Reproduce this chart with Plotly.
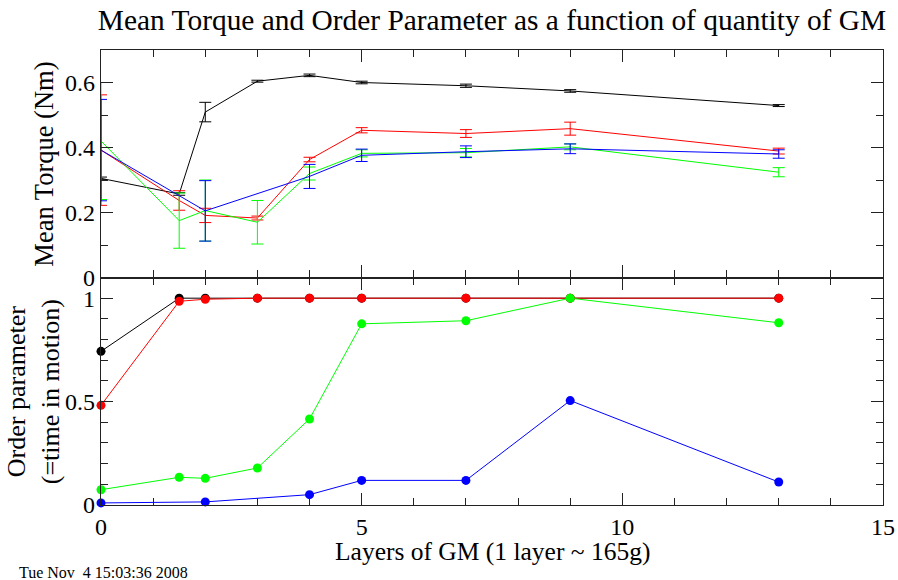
"""
Couple mean torque / order parameter vs. number of GM layers.
Two stacked panels sharing the x axis, xmgrace-like styling.
"""

import plotly.graph_objects as go
from plotly.subplots import make_subplots

# ─────────────────────────────────────────────────────────────────
# Data
# ─────────────────────────────────────────────────────────────────

layers = [0, 1.5, 2, 3, 4, 5, 7, 9, 13]
layers_blue = [0, 2, 4, 5, 7, 9, 13]

torque_black = [0.305, 0.257, 0.509, 0.604, 0.622, 0.600, 0.590, 0.574, 0.529]
torque_black_err = [0.004, 0.004, 0.030, 0.003, 0.004, 0.004, 0.005, 0.004, 0.003]
torque_red = [0.392, 0.237, 0.191, 0.183, 0.363, 0.453, 0.443, 0.458, 0.389]
torque_red_err = [0.170, 0.030, 0.022, 0.006, 0.007, 0.008, 0.012, 0.020, 0.009]
torque_green = [0.420, 0.175, 0.206, 0.170, 0.320, 0.382, 0.384, 0.402, 0.324]
torque_green_err = [0.180, 0.085, 0.094, 0.067, 0.020, 0.011, 0.013, 0.009, 0.014]
torque_blue = [0.392, 0.205, 0.311, 0.376, 0.387, 0.396, 0.380]
torque_blue_err = [0.156, 0.093, 0.037, 0.019, 0.018, 0.015, 0.013]

order_black = [0.743, 1.0, 1.0, 1.0, 1.0, 1.0, 1.0, 1.0, 1.0]
order_red = [0.482, 0.985, 0.995, 1.0, 1.0, 1.0, 1.0, 1.0, 1.0]
order_green = [0.074, 0.134, 0.129, 0.179, 0.416, 0.876, 0.891, 1.0, 0.881]
order_blue = [0.010, 0.015, 0.050, 0.119, 0.119, 0.505, 0.111]

FONT = "Liberation Serif"
C_BLACK, C_RED, C_GREEN, C_BLUE = "#000000", "#ff0000", "#00ff00", "#0000ff"

fig = make_subplots(rows=2, cols=1, shared_xaxes=True, vertical_spacing=0)

# Panneau haut : couple moyen avec barres d'erreur
top_series = [
    (layers, torque_black, torque_black_err, C_BLACK),
    (layers, torque_red, torque_red_err, C_RED),
    (layers, torque_green, torque_green_err, C_GREEN),
    (layers_blue, torque_blue, torque_blue_err, C_BLUE),
]
for xs, ys, errs, col in top_series:
    fig.add_trace(
        go.Scatter(
            x=xs, y=ys, mode="lines",
            line=dict(color=col, width=1),
            error_y=dict(type="data", array=errs, color=col,
                         thickness=1, width=6),
            showlegend=False,
        ),
        row=1, col=1,
    )

# Panneau bas : paramètre d'ordre (points + lignes)
bottom_series = [
    (layers, order_black, C_BLACK),
    (layers, order_red, C_RED),
    (layers, order_green, C_GREEN),
    (layers_blue, order_blue, C_BLUE),
]
for xs, ys, col in bottom_series:
    fig.add_trace(
        go.Scatter(
            x=xs, y=ys, mode="lines+markers",
            line=dict(color=col, width=1),
            marker=dict(color=col, size=9),
            cliponaxis=False,
            showlegend=False,
        ),
        row=2, col=1,
    )

# automargin coupé : sinon le label "15" élargit la marge droite
axis_common = dict(
    showline=True, linecolor="#222", linewidth=1.2,
    mirror="allticks", ticks="inside", ticklen=12, tickwidth=1.2,
    tickcolor="#222", showgrid=False, zeroline=False, automargin=False,
    tickfont=dict(family=FONT, size=24, color="black"),
)

fig.update_xaxes(
    range=[0, 15], dtick=5,
    minor=dict(dtick=1, ticks="inside", ticklen=7, tickcolor="#222"),
    **axis_common,
)
fig.update_xaxes(showticklabels=False, row=1, col=1)
fig.update_yaxes(
    range=[0, 0.7], dtick=0.2,
    minor=dict(dtick=0.1, ticks="inside", ticklen=7, tickcolor="#222"),
    row=1, col=1, **axis_common,
)
fig.update_yaxes(
    range=[0, 1.1], dtick=0.5,
    minor=dict(dtick=0.1, ticks="inside", ticklen=7, tickcolor="#222"),
    row=2, col=1, **axis_common,
)

# Titres d'axes placés en annotations pour maîtriser la position
fig.add_annotation(
    text="Mean Torque (Nm)", textangle=-90,
    xref="paper", yref="paper", x=-0.073, y=0.75,
    xanchor="center", yanchor="middle", showarrow=False,
    font=dict(family=FONT, size=26.5, color="black"),
)
fig.add_annotation(
    text="Order parameter<br>(=time in motion)", textangle=-90,
    xref="paper", yref="paper", x=-0.087, y=0.25,
    xanchor="center", yanchor="middle", showarrow=False,
    font=dict(family=FONT, size=26, color="black"),
)
fig.add_annotation(
    text="Layers of GM (1 layer ~ 165g)",
    xref="paper", yref="paper", x=0.5, y=0, yshift=-46,
    xanchor="center", yanchor="middle", showarrow=False,
    font=dict(family=FONT, size=25.5, color="black"),
)
fig.add_annotation(
    text="Tue Nov\u00a0 4 15:03:36 2008",
    xref="paper", yref="paper", x=-0.1074, y=0, yshift=-67,
    xanchor="left", yanchor="middle", showarrow=False,
    font=dict(family=FONT, size=16, color="black"),
)

fig.update_layout(
    width=898, height=580,
    margin=dict(l=101, r=15, t=50, b=75),
    paper_bgcolor="white", plot_bgcolor="white",
    title=dict(
        text="Mean Torque and Order Parameter as a function of quantity of GM",
        xref="paper", x=0.5, xanchor="center",
        yref="container", y=0.9655, yanchor="middle",
        font=dict(family=FONT, size=29.4, color="black"),
    ),
)

# Le body HTML a 8 px de marge par défaut : on la supprime pour caler la figure
fig.write_html(
    "out.html",
    config={"displayModeBar": False},
    post_script="document.body.style.margin = '0';",
)
